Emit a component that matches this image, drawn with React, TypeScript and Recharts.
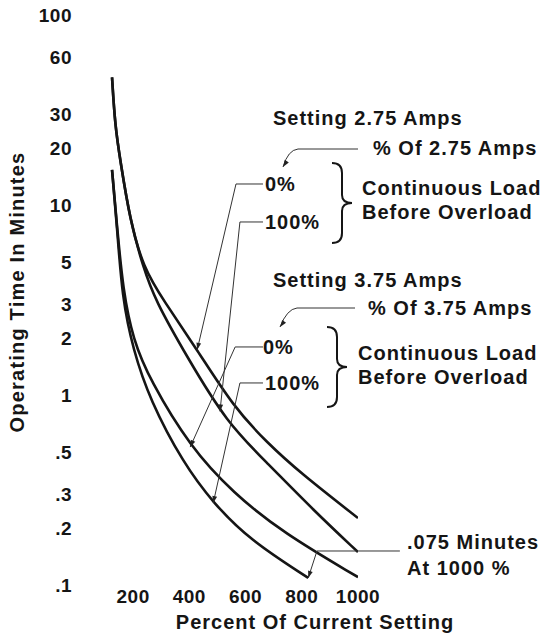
import React from 'react';
import { LineChart, Line, XAxis, YAxis, ReferenceLine } from 'recharts';

const X_TICKS = [200, 400, 600, 800, 1000];
const Y_TICKS = [0.1, 0.2, 0.3, 0.5, 1, 2, 3, 5, 10, 20, 30, 60, 100];

// percent of current setting -> operating time in minutes
const amps275Zero = [
  { x: 125, y: 47 }, { x: 136, y: 26 }, { x: 154, y: 17.3 }, { x: 189, y: 8.3 },
  { x: 236, y: 4.7 }, { x: 307, y: 3.16 }, { x: 428, y: 1.73 }, { x: 556, y: 0.87 },
  { x: 677, y: 0.56 }, { x: 794, y: 0.39 }, { x: 1000, y: 0.225 },
];
const amps275Full = [
  { x: 125, y: 47 }, { x: 136, y: 26 }, { x: 154, y: 17.3 }, { x: 189, y: 8.3 },
  { x: 236, y: 4.7 }, { x: 278, y: 3.16 }, { x: 392, y: 1.585 }, { x: 534, y: 0.712 },
  { x: 677, y: 0.439 }, { x: 841, y: 0.248 }, { x: 1000, y: 0.149 },
];
const amps375Zero = [
  { x: 125, y: 15.3 }, { x: 143, y: 7.66 }, { x: 164, y: 3.57 }, { x: 200, y: 1.95 },
  { x: 260, y: 1.2 }, { x: 403, y: 0.532 }, { x: 556, y: 0.305 }, { x: 734, y: 0.188 },
  { x: 1000, y: 0.11 },
];
const amps375Full = [
  { x: 125, y: 15.3 }, { x: 143, y: 7.66 }, { x: 161, y: 3.25 }, { x: 200, y: 1.73 },
  { x: 260, y: 0.94 }, { x: 378, y: 0.439 }, { x: 485, y: 0.27 }, { x: 616, y: 0.172 },
  { x: 823, y: 0.109 },
];

// leader lines: label end -> elbow -> arrow tip on the curve (data coords)
const leaders = [
  { from: { x: 662, y: 12.9 }, elbow: { x: 566, y: 12.9 }, tip: { x: 428, y: 1.73 } },
  { from: { x: 662, y: 8.14 }, elbow: { x: 580, y: 8.14 }, tip: { x: 509, y: 0.82 } },
  { from: { x: 662, y: 1.79 }, elbow: { x: 563, y: 1.79 }, tip: { x: 403, y: 0.532 } },
  { from: { x: 662, y: 1.157 }, elbow: { x: 580, y: 1.157 }, tip: { x: 485, y: 0.27 } },
  { from: { x: 1149, y: 0.151 }, elbow: { x: 854, y: 0.151 }, tip: { x: 823, y: 0.109 } },
];

const FONT = '"Liberation Sans", Arial, Helvetica, sans-serif';
const INK = '#151515';

const fmtY = (v: number) => (v < 1 ? String(v).replace(/^0/, '') : String(v));

function ArrowLine(props: any) {
  const { x1, y1, x2, y2 } = props;
  const a = Math.atan2(y2 - y1, x2 - x1);
  const len = 7;
  const w = 2.4;
  const bx = x2 - len * Math.cos(a);
  const by = y2 - len * Math.sin(a);
  const p1 = `${bx + w * Math.sin(a)},${by - w * Math.cos(a)}`;
  const p2 = `${bx - w * Math.sin(a)},${by + w * Math.cos(a)}`;
  return (
    <g>
      <line x1={x1} y1={y1} x2={x2} y2={y2} stroke="#333" strokeWidth={1} />
      <polygon points={`${x2},${y2} ${p1} ${p2}`} fill="#222" />
    </g>
  );
}

function Brace({ x, y, h }: { x: number; y: number; h: number }) {
  const m = y + h / 2;
  const d = `M${x} ${y} Q${x + 10} ${y} ${x + 10} ${y + 10} L${x + 10} ${m - 8} Q${x + 10} ${m} ${x + 20} ${m} Q${x + 10} ${m} ${x + 10} ${m + 8} L${x + 10} ${y + h - 10} Q${x + 10} ${y + h} ${x} ${y + h}`;
  return <path d={d} fill="none" stroke={INK} strokeWidth={2} />;
}

function CurvedArrow({ x1, x2, y, tx, ty }: { x1: number; x2: number; y: number; tx: number; ty: number }) {
  const a = Math.atan2(ty - y - 4, tx - x2 + 6);
  const len = 7;
  const w = 2.4;
  const bx = tx - len * Math.cos(a);
  const by = ty - len * Math.sin(a);
  return (
    <g>
      <path d={`M${x1} ${y} L${x2} ${y} Q${x2 - 10} ${y + 1} ${tx} ${ty}`} fill="none" stroke="#333" strokeWidth={1} />
      <polygon
        points={`${tx},${ty} ${bx + w * Math.sin(a)},${by - w * Math.cos(a)} ${bx - w * Math.sin(a)},${by + w * Math.cos(a)}`}
        fill="#222"
      />
    </g>
  );
}

const labelStyle = { fontFamily: FONT, fontWeight: 700, fontSize: 20, letterSpacing: 1, fill: INK } as const;

function T({ x, y, children }: { x: number; y: number; children: React.ReactNode }) {
  return (
    <text x={x} y={y} dominantBaseline="central" style={labelStyle}>
      {children}
    </text>
  );
}

export default function App() {
  const tick = { fill: INK, fontSize: 19, fontWeight: 700, fontFamily: FONT, letterSpacing: 0.5 };
  return (
    <div style={{ position: 'absolute', left: 0, top: 0, width: 545, height: 633, background: '#fff' }}>
      <LineChart width={545} height={633} margin={{ top: 15, right: 187, bottom: 0, left: 0 }}>
        <XAxis
          type="number"
          dataKey="x"
          domain={[100, 1000]}
          ticks={X_TICKS}
          axisLine={false}
          tickLine={false}
          tickSize={0}
          tickMargin={5}
          height={48}
          tick={tick}
          allowDataOverflow
        />
        <YAxis
          type="number"
          dataKey="y"
          scale="log"
          domain={[0.1, 100]}
          ticks={Y_TICKS}
          tickFormatter={fmtY}
          axisLine={false}
          tickLine={false}
          tickSize={0}
          tickMargin={33}
          width={105}
          tick={tick}
          allowDataOverflow
        />
        <Line data={amps275Zero} dataKey="y" type="basis" stroke={INK} strokeWidth={2.6} dot={false} isAnimationActive={false} />
        <Line data={amps275Full} dataKey="y" type="basis" stroke={INK} strokeWidth={2.6} dot={false} isAnimationActive={false} />
        <Line data={amps375Zero} dataKey="y" type="basis" stroke={INK} strokeWidth={2.6} dot={false} isAnimationActive={false} />
        <Line data={amps375Full} dataKey="y" type="basis" stroke={INK} strokeWidth={2.6} dot={false} isAnimationActive={false} />
        {leaders.map((l, i) => (
          <ReferenceLine key={`h${i}`} segment={[l.from, l.elbow]} ifOverflow="visible" stroke="#333" strokeWidth={1} />
        ))}
        {leaders.map((l, i) => (
          <ReferenceLine key={`d${i}`} segment={[l.elbow, l.tip]} ifOverflow="visible" shape={ArrowLine} />
        ))}
      </LineChart>
      <svg width={545} height={633} style={{ position: 'absolute', left: 0, top: 0, pointerEvents: 'none' }}>
        <text
          transform="translate(17,292) rotate(-90)"
          textAnchor="middle"
          dominantBaseline="central"
          style={{ ...labelStyle, letterSpacing: 1.2 }}
        >
          Operating Time In Minutes
        </text>
        <text x={315} y={622} textAnchor="middle" dominantBaseline="central" style={labelStyle}>
          Percent Of Current Setting
        </text>

        <T x={273} y={118}>Setting 2.75 Amps</T>
        <T x={373} y={148}>% Of 2.75 Amps</T>
        <CurvedArrow x1={358} x2={298} y={149} tx={283} ty={167} />
        <T x={265} y={184}>0%</T>
        <T x={265} y={222}>100%</T>
        <Brace x={332} y={163} h={80} />
        <T x={362} y={188}>Continuous Load</T>
        <T x={362} y={212}>Before Overload</T>

        <T x={273} y={280}>Setting 3.75 Amps</T>
        <T x={368} y={308}>% Of 3.75 Amps</T>
        <CurvedArrow x1={355} x2={297} y={308} tx={280} ty={327} />
        <T x={263} y={347}>0%</T>
        <T x={265} y={383}>100%</T>
        <Brace x={327} y={327} h={80} />
        <T x={358} y={353}>Continuous Load</T>
        <T x={358} y={377}>Before Overload</T>

        <T x={407} y={542}>.075 Minutes</T>
        <T x={407} y={568}>At 1000 %</T>
      </svg>
    </div>
  );
}
